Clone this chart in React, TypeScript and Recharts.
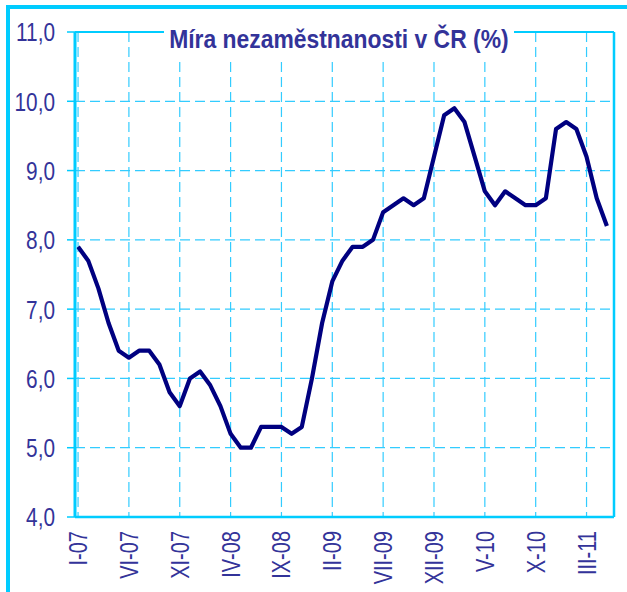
import { LineChart, Line, XAxis, YAxis, CartesianGrid, ReferenceLine } from 'recharts'

const months = [
  'I-07', 'II-07', 'III-07', 'IV-07', 'V-07', 'VI-07', 'VII-07', 'VIII-07', 'IX-07', 'X-07', 'XI-07', 'XII-07',
  'I-08', 'II-08', 'III-08', 'IV-08', 'V-08', 'VI-08', 'VII-08', 'VIII-08', 'IX-08', 'X-08', 'XI-08', 'XII-08',
  'I-09', 'II-09', 'III-09', 'IV-09', 'V-09', 'VI-09', 'VII-09', 'VIII-09', 'IX-09', 'X-09', 'XI-09', 'XII-09',
  'I-10', 'II-10', 'III-10', 'IV-10', 'V-10', 'VI-10', 'VII-10', 'VIII-10', 'IX-10', 'X-10', 'XI-10', 'XII-10',
  'I-11', 'II-11', 'III-11', 'IV-11', 'V-11',
]

const rate = [
  7.9, 7.7, 7.3, 6.8, 6.4, 6.3, 6.4, 6.4, 6.2, 5.8, 5.6, 6.0,
  6.1, 5.9, 5.6, 5.2, 5.0, 5.0, 5.3, 5.3, 5.3, 5.2, 5.3, 6.0,
  6.8, 7.4, 7.7, 7.9, 7.9, 8.0, 8.4, 8.5, 8.6, 8.5, 8.6, 9.2,
  9.8, 9.9, 9.7, 9.2, 8.7, 8.5, 8.7, 8.6, 8.5, 8.5, 8.6, 9.6,
  9.7, 9.6, 9.2, 8.6, 8.2,
]

// every fifth month gets a label
const xTicks = [0, 5, 10, 15, 20, 25, 30, 35, 40, 45, 50]
const yTicks = [4, 5, 6, 7, 8, 9, 10, 11]

const title = 'Míra nezaměstnanosti v ČR (%)'

const data = rate.map((v, i) => ({ i, month: months[i], rate: v }))

// no narrow font installed, so the regular one gets squeezed
const FONT = '"Liberation Sans", Arial, sans-serif'
const TEXT = '#333399'
const CYAN = '#00ccff'
const GRID = '#33ccff'

function MonthTick({ x, y, payload }: any) {
  return (
    <g transform={`translate(${x},${y + 6})`}>
      <text
        transform="rotate(-90) scale(0.8,1)"
        textAnchor="end"
        dy="0.36em"
        fontSize={25}
        fontFamily={FONT}
        fill={TEXT}
      >
        {months[payload.value]}
      </text>
    </g>
  )
}

function RateTick({ x, y, payload }: any) {
  return (
    <g transform={`translate(${x},${y})`}>
      <text
        transform="scale(0.8,1)"
        textAnchor="end"
        dy="0.36em"
        fontSize={26}
        fontFamily={FONT}
        fill={TEXT}
      >
        {payload.value.toFixed(1).replace('.', ',')}
      </text>
    </g>
  )
}

export default function App() {
  return (
    <div style={{ position: 'absolute', left: 0, top: 0, width: 627, height: 592, background: '#fff', overflow: 'hidden' }}>
      <div
        style={{
          position: 'absolute', left: 6, top: 5, width: 640, height: 600,
          borderTop: `4px solid ${CYAN}`, borderLeft: `4px solid ${CYAN}`,
        }}
      />
      <LineChart width={627} height={592} data={data} margin={{ top: 32, right: 13, left: 0, bottom: 0 }}>
        <CartesianGrid stroke={GRID} strokeDasharray="10 5" strokeWidth={1.2} />
        <XAxis
          dataKey="i"
          type="number"
          domain={[-0.3, 52.7]}
          ticks={xTicks}
          height={75}
          axisLine={{ stroke: CYAN, strokeWidth: 2.5 }}
          tickLine={false}
          tick={<MonthTick />}
          interval={0}
        />
        <YAxis
          domain={[4, 11]}
          ticks={yTicks}
          width={75}
          axisLine={{ stroke: CYAN, strokeWidth: 3 }}
          tickLine={{ stroke: CYAN, strokeWidth: 1.5 }}
          tickSize={8}
          tickMargin={12}
          tick={<RateTick />}
        />
        <ReferenceLine y={11} stroke={CYAN} strokeWidth={2} />
        <ReferenceLine x={52.7} stroke={CYAN} strokeWidth={2.5} />
        <Line
          dataKey="rate"
          type="linear"
          stroke="#000080"
          strokeWidth={4.2}
          strokeLinejoin="round"
          dot={false}
          isAnimationActive={false}
        />
      </LineChart>
      <div
        style={{
          position: 'absolute', left: 164, top: 20, width: 350, height: 38,
          background: '#fff', color: TEXT, fontFamily: FONT, fontWeight: 'bold',
          fontSize: 26, lineHeight: '38px', whiteSpace: 'nowrap',
          display: 'flex', justifyContent: 'center',
        }}
      >
        <span style={{ flex: 'none', transform: 'scaleX(0.88)', transformOrigin: 'center' }}>{title}</span>
      </div>
    </div>
  )
}
